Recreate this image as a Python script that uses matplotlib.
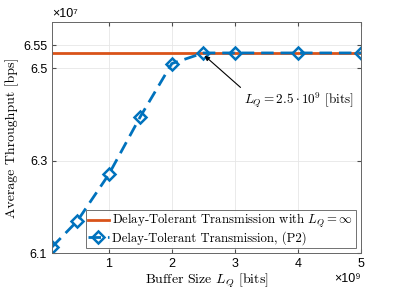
import matplotlib
matplotlib.use("Agg")
import matplotlib.pyplot as plt

plt.rcParams['mathtext.fontset'] = 'cm'
plt.rcParams['axes.unicode_minus'] = False

# data (buffer size in 1e9 bits, throughput in 1e7 bps)
buffer_size = [0.1, 0.5, 1.0, 1.5, 2.0, 2.5, 3.0, 4.0, 5.0]
throughput_p2 = [6.113, 6.169, 6.270, 6.395, 6.510, 6.533, 6.533, 6.533, 6.533]
throughput_inf = 6.533
x_ticks = [1, 2, 3, 4, 5]
y_ticks = [6.1, 6.3, 6.5, 6.55]

blue = (0, 0.447, 0.741)
orange = (0.85, 0.325, 0.098)
serif = 'cmr10'
sans = ['Liberation Sans', 'DejaVu Sans']

fig = plt.figure(figsize=(3.99, 2.91), dpi=100)
ax = fig.add_axes([52 / 399, 38 / 291, 309 / 399, 231 / 291])

ax.plot([buffer_size[0], buffer_size[-1]], [throughput_inf, throughput_inf],
        color=orange, lw=2, label=r'Delay-Tolerant Transmission with $L_Q=\infty$')
ax.plot(buffer_size, throughput_p2, color=blue, lw=2, ls=(0, (4.5, 2.5)),
        marker='D', markersize=6.5, markerfacecolor='none', markeredgewidth=1.8,
        label='Delay-Tolerant Transmission, (P2)')

ax.set_xlim(0.1, 5)
ax.set_ylim(6.1, 6.6)
ax.set_xticks(x_ticks)
ax.set_yticks(y_ticks)
ax.set_yticklabels(['6.1', '6.3', '6.5', '6.55'])
ax.tick_params(direction='in', labelsize=9, length=3, color='0.3', top=True, right=True)
for lab in ax.get_xticklabels() + ax.get_yticklabels():
    lab.set_family(sans)
ax.grid(True, color='0.9', lw=0.6)
for s in ax.spines.values():
    s.set_color('0.4')
    s.set_linewidth(0.7)

ax.set_xlabel(r'Buffer Size $L_Q$ [bits]', family=serif, fontsize=10, labelpad=1)
ax.set_ylabel('Average Throughput [bps]', family=serif, fontsize=10, labelpad=3)

ax.text(0.0, 1.01, '\u00d710\u2077', transform=ax.transAxes, fontsize=9,
        family=sans, ha='left', va='bottom')
ax.text(1.0, -0.085, '\u00d710\u2079', transform=ax.transAxes, fontsize=9,
        family=sans, ha='right', va='top')

ax.annotate(r'$L_Q = 2.5\cdot10^9$ [bits]', xy=(2.52, 6.527), xytext=(3.15, 6.43),
            fontsize=9.5, family=serif, ha='left', va='center',
            arrowprops=dict(arrowstyle='-|>', color='black', lw=0.8,
                            mutation_scale=7, shrinkA=1, shrinkB=0,
                            relpos=(0, 1)))

leg = ax.legend(loc='lower right', prop={'family': serif, 'size': 9.2},
                frameon=True, fancybox=False, borderpad=0.2, labelspacing=0.1,
                handlelength=1.6, handletextpad=0.3, borderaxespad=0.4)
leg.get_frame().set_edgecolor('0.3')
leg.get_frame().set_linewidth(0.7)

fig.savefig('out.png', dpi=100)
